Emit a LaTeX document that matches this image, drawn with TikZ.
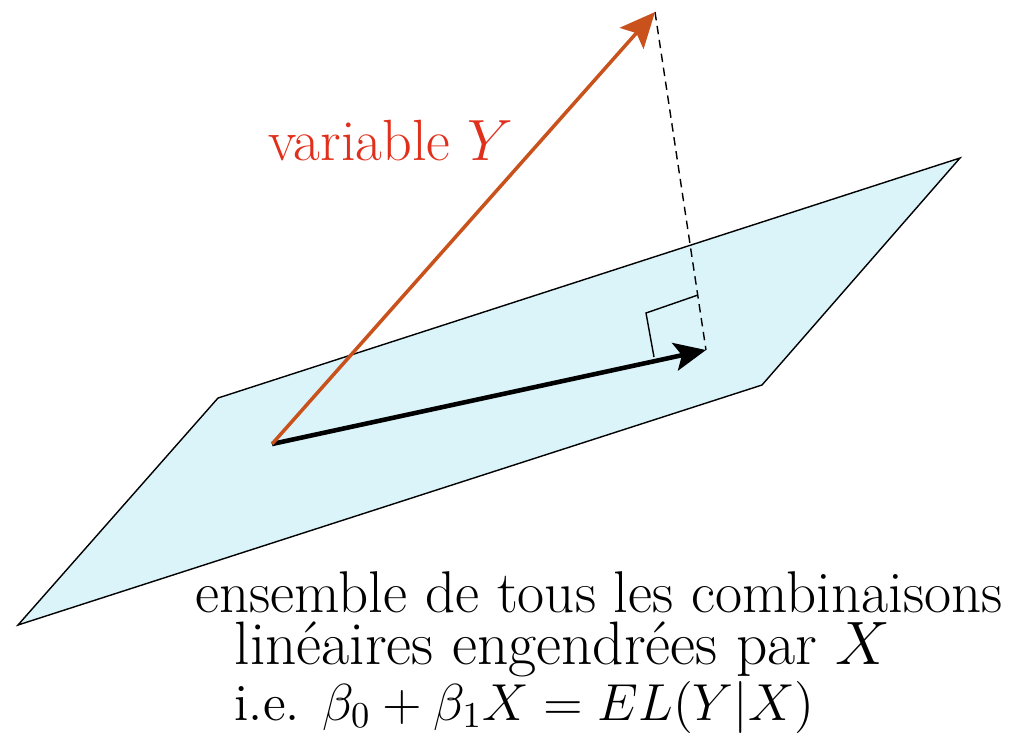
\RequirePackage{fix-cm}
\documentclass[tikz,border=0pt]{standalone}
\usepackage{xcolor}
\usepackage{tikz}
\usetikzlibrary{arrows.meta}
\definecolor{planefill}{HTML}{DAF4FA}
\definecolor{vecred}{HTML}{C9521C}
\definecolor{txtred}{HTML}{E0301C}

\begin{document}
\begin{tikzpicture}[
        x=0.01cm,y=-0.01cm,
        font=\fontsize{16.75}{18}\selectfont,
        plane/.style={draw=black,line width=0.4pt,fill=planefill},
        vecy/.style={draw=vecred,line width=1pt,-{Stealth[length=10pt,width=9pt,inset=2pt]}},
        vecx/.style={draw=black,line width=1.3pt,-{Stealth[length=9pt,width=8pt,inset=2pt]}},
        proj/.style={draw=black,line width=0.4pt,dash pattern=on 2.4pt off 1.6pt},
        lbl/.style={anchor=base west,inner sep=0pt}
      ]
      \useasboundingbox (0,0) rectangle (1021,738);

      % the plane spanned by X
      \coordinate (c1) at (18,625);
      \coordinate (c2) at (218,398);
      \coordinate (c3) at (960,158);
      \coordinate (c4) at (762,385);
      \path[plane] (c1) -- (c2) -- (c3) -- (c4) -- cycle;

      % the vectors
      \coordinate (o) at (272,444);
      \coordinate (y) at (655,12);
      \coordinate (p) at (706,350);
      \draw[proj] (y) -- (p);
      \draw[line width=0.4pt] (654,357) -- (646,313) -- (698,295);
      \draw[vecx] (o) -- (p);
      \draw[vecy] (o) -- (y);

      \node[lbl,text=txtred,font=\fontsize{16.55}{18}\selectfont] (ylab) at (268,160) {variable $Y$};

      % caption under the plane
      \node[lbl] (t1) at (195,612) {ensemble de tous les combinaisons};
      \node[lbl,font=\fontsize{17.44}{18}\selectfont] (t2) at (234,664) {linéaires engendrées par $X$};
      \node[lbl,font=\fontsize{14.8}{18}\selectfont] (t3) at (234,720) {i.e. $\beta_0+\beta_1X=EL(Y|X)$};
    \end{tikzpicture}
\end{document}
